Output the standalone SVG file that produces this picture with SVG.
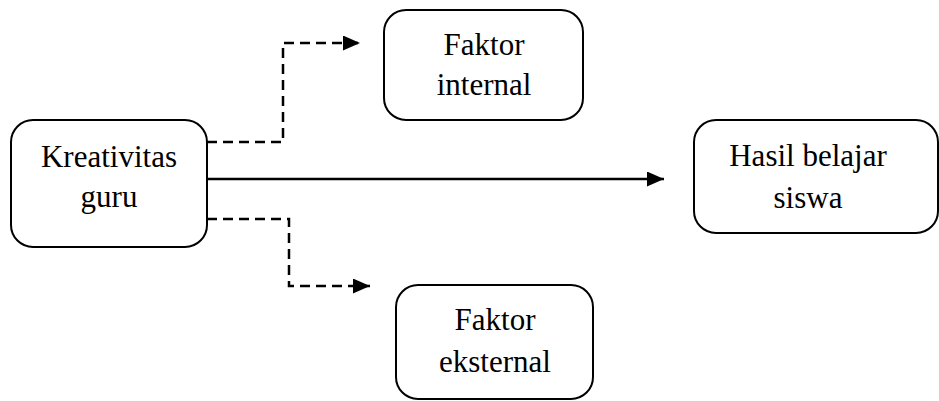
<svg xmlns="http://www.w3.org/2000/svg" width="939" height="401" viewBox="0 0 939 401">
<style>
.box{fill:#fff;stroke:#000;stroke-width:2}
.lbl{font-family:"Liberation Serif","Times New Roman",serif;font-size:31px;fill:#000;text-anchor:middle}
.edge{fill:none;stroke:#000;stroke-width:2.5}
.dash{stroke-dasharray:10 6}
</style>
<defs>
<marker id="arr" markerUnits="userSpaceOnUse" markerWidth="18" markerHeight="16" refX="17" refY="7.5" orient="auto">
<path d="M0,0 L17,7.5 L0,15 z" fill="#000"/>
</marker>
</defs>
<rect width="939" height="401" fill="#fff"/>
<g id="connectors">
<path class="edge dash" d="M207,142 H283 V43 H360" marker-end="url(#arr)"/>
<path class="edge" d="M207,179 H664" marker-end="url(#arr)"/>
<path class="edge dash" d="M207,219 H289 V286 H370" marker-end="url(#arr)"/>
</g>
<g id="kreativitas">
<rect class="box" x="11" y="120" width="196" height="127" rx="22"/>
<text class="lbl" x="109" y="167">Kreativitas</text>
<text class="lbl" x="109" y="207">guru</text>
</g>
<g id="internal">
<rect class="box" x="384" y="10" width="199" height="110" rx="22"/>
<text class="lbl" x="484" y="55">Faktor</text>
<text class="lbl" x="484" y="95">internal</text>
</g>
<g id="eksternal">
<rect class="box" x="396" y="285" width="197" height="114" rx="22"/>
<text class="lbl" x="495" y="330">Faktor</text>
<text class="lbl" x="495" y="372">eksternal</text>
</g>
<g id="hasil">
<rect class="box" x="694" y="120" width="244" height="113" rx="22"/>
<text class="lbl" x="808" y="166">Hasil belajar</text>
<text class="lbl" x="808" y="208">siswa</text>
</g>
</svg>
